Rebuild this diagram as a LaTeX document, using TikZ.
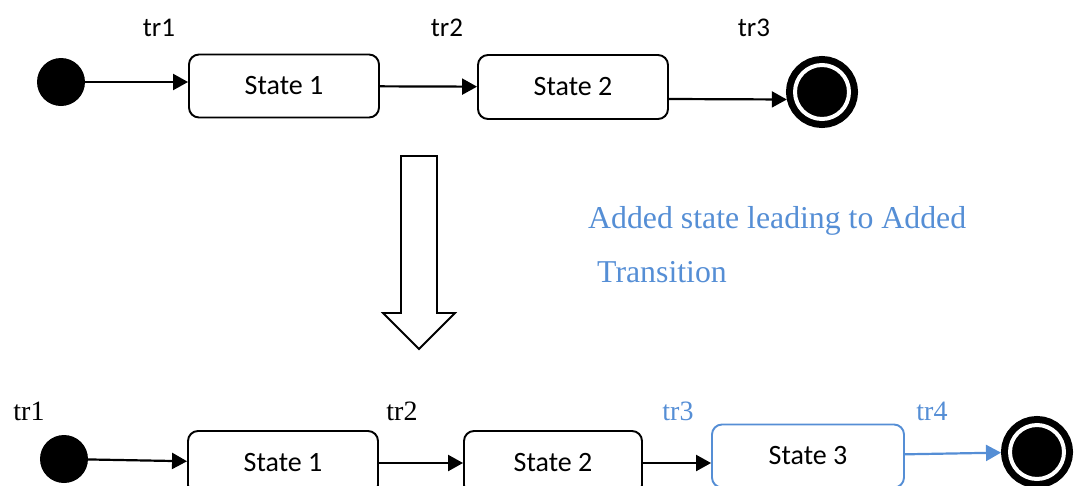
\documentclass[tikz,border=0pt]{standalone}
\usepackage{fontspec}
\setmainfont{Liberation Serif}
\newfontfamily\calibri{Carlito}
\usepackage{tikz}
\usetikzlibrary{arrows.meta, shapes.geometric}
\definecolor{addedBlue}{RGB}{85,142,213}
\tikzstyle{arrow} = [line width=2.2pt, -{Triangle[length=15pt, width=16pt]}]
\tikzstyle{stateNode} = [
                rectangle,
                rounded corners=10pt,
                minimum width=190pt,
                minimum height=63pt,
                text centered,
                draw=black,
                line width=1.9pt,
                font=\calibri\fontsize{28}{34}\selectfont
            ]
\tikzstyle{startNode} = [circle, fill=black, minimum size=48pt, inner sep=0pt]
\tikzstyle{endNode} = [circle, minimum size=54pt, inner sep=0pt, fill=black, draw=black, line width=7pt, double=white, double distance=4pt, outer sep=9pt]
\tikzstyle{topLabel} = [inner sep=0pt, font=\calibri\fontsize{27}{32}\selectfont]
\tikzstyle{bottomLabel} = [inner sep=0pt, font=\fontsize{28}{34}\selectfont]

\begin{document}
\begin{tikzpicture}[x=1pt, y=1pt]
                            \useasboundingbox (0,0) rectangle (1076,-485);
                            % original machine
                            \node (1) [startNode] at (61,-82) {};
                            \node (2) [stateNode] at (284,-86) {State 1};
                            \node (3) [stateNode, minimum height=64pt] at (573,-87) {State 2};
                            \node (4) [endNode] at (822,-92) {};
                            \node (t1) [topLabel] at (159,-28) {tr1};
                            \node (t2) [topLabel] at (447,-28) {tr2};
                            \node (t3) [topLabel] at (754,-28) {tr3};
                            \draw [arrow] (1) -- (2.west |- 1.east);
                            \draw [arrow] (2) -- (3);
                            \draw [arrow] ([yshift=-12pt]3.east) -- (4.192);
                            % hollow arrow
                            \draw [line width=1.8pt] (401,-156) -- (437,-156) -- (437,-313) -- (455,-313) -- (419,-349) -- (383,-313) -- (401,-313) -- cycle;
                            \node (n1) [anchor=base west, inner sep=0pt, text=addedBlue, font=\fontsize{31.8}{38}\selectfont] at (588,-228) {Added state leading to Added};
                            \node (n2) [anchor=base west, inner sep=0pt, text=addedBlue, font=\fontsize{31.8}{38}\selectfont, xshift=9pt, yshift=-54pt] at (n1.base west) {Transition};
                            % mutated machine
                            \node (5) [startNode] at (64,-459) {};
                            \node (6) [stateNode, minimum height=64pt] at (283,-463) {State 1};
                            \node (7) [stateNode, minimum height=64pt, minimum width=178pt] at (553,-463) {State 2};
                            \node (8) [stateNode, draw=addedBlue, minimum width=192pt] at (808,-456) {State 3};
                            \node (9) [endNode] at (1037,-452) {};
                            \node (b1) [bottomLabel] at (29,-411) {tr1};
                            \node (b2) [bottomLabel] at (402,-411) {tr2};
                            \node (b3) [bottomLabel, text=addedBlue] at (678,-411) {tr3};
                            \node (b4) [bottomLabel, text=addedBlue] at (932,-411) {tr4};
                            \draw [arrow] (5) -- (6);
                            \draw [arrow] (6) -- (7);
                            \draw [arrow] (7) -- (8.west |- 7.east);
                            \draw [arrow, draw=addedBlue, fill=addedBlue] (8) -- (9);
                        \end{tikzpicture}
\end{document}
